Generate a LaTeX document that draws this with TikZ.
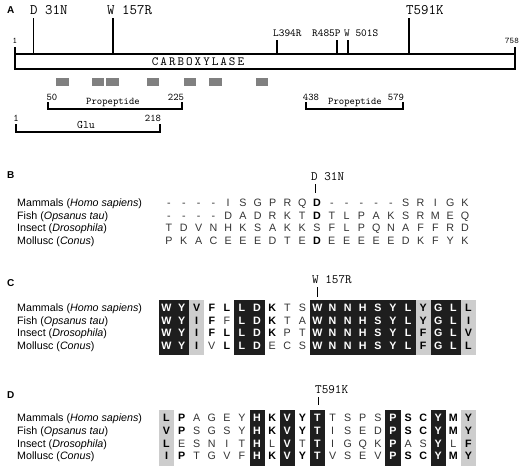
\documentclass[tikz,border=0pt]{standalone}
\usepackage{fontspec}
\setmainfont{Liberation Sans}
\newfontfamily\carbfont{lmmono10-regular.otf}[LetterSpace=16]
\definecolor{blk}{HTML}{1E1E1E}
\definecolor{lgr}{HTML}{CDCDCD}
\definecolor{dgr}{HTML}{808080}
\definecolor{txt}{HTML}{333333}
\newcommand\seqrow[5]{\foreach \l/\s [count=\i from 0] in {#5} {\node[\s] (#1\i) at ({#2+#3*\i},#4) {\l};}}
\newcommand\colbox[5]{\fill[#1] ({166.5+15.1*#2-7.55},#4) rectangle ({166.5+15.1*#3+7.55},#5);}
\begin{document}
\begin{tikzpicture}[x=1pt,y=-1pt,
  panel/.style={font=\bfseries\fontsize{10}{10}\selectfont, inner sep=0, anchor=west, text height=7.2pt, text depth=0pt},
  species/.style={font=\fontsize{10.7}{12}\selectfont, inner sep=0, anchor=west, text height=7.6pt, text depth=0pt},
  reg/.style={font=\fontsize{10.7}{12}\selectfont, text=txt, inner sep=0, text height=7.6pt, text depth=0pt},
  bld/.style={font=\bfseries\fontsize{10.7}{12}\selectfont, text=black, inner sep=0, text height=7.6pt, text depth=0pt},
  wht/.style={bld, text=white},
  mutbig/.style={font=\ttfamily\fontsize{14.5}{15}\selectfont, inner sep=0, anchor=west, text height=8.5pt, text depth=0pt},
  mutmid/.style={font=\ttfamily\fontsize{12.8}{13}\selectfont, inner sep=0, anchor=west, text height=7.5pt, text depth=0pt},
  mutsmall/.style={font=\ttfamily\fontsize{10.8}{11}\selectfont, inner sep=0, anchor=west, text height=6.5pt, text depth=0pt},
  numtiny/.style={font=\ttfamily\fontsize{8.6}{9}\selectfont, inner sep=0, text height=5.2pt, text depth=0pt},
  numsmall/.style={font=\ttfamily\fontsize{10.2}{10}\selectfont, inner sep=0, text height=6pt, text depth=0pt},
  mutline/.style={line width=1.6pt},
  brk/.style={line width=1.4pt},
  tickline/.style={line width=0.8pt},
  dom/.style={fill=dgr, inner sep=0, minimum width=12.5pt, minimum height=8pt}
]
\useasboundingbox (0,0) rectangle (520,469);

% ---------------- Panel A ----------------
\node[panel] (lA) at (7,10) {A};
\node[draw, line width=1.6pt, inner sep=0, minimum width=500pt, minimum height=15pt] (carb) at (265,61.5) {};
\node[font=\carbfont\fontsize{12.5}{13}\selectfont, inner sep=0, text height=7pt, text depth=0pt] (carbtxt) at (198,62) {CARBOXYLASE};
% end ticks
\coordinate (e1a) at (15,47); \coordinate (e1b) at (15,69);
\coordinate (e2a) at (515,47); \coordinate (e2b) at (515,69);
\draw[mutline] (e1a) -- (e1b);
\draw[mutline] (e2a) -- (e2b);
\node[numtiny] (n1) at (15,41) {1};
\node[numtiny] (n758) at (512,41) {758};
% mutations
\coordinate (m1b) at (33.5,54); \coordinate (m1t) at (33.5,18);
\coordinate (m2b) at (113,54); \coordinate (m2t) at (113,18);
\coordinate (m3b) at (277,54); \coordinate (m3t) at (277,40);
\coordinate (m4b) at (337,54); \coordinate (m4t) at (337,40);
\coordinate (m5b) at (348,54); \coordinate (m5t) at (348,40);
\coordinate (m6b) at (409,54); \coordinate (m6t) at (409,18);
\foreach \k in {1,...,6} {\draw[mutline] (m\k b) -- (m\k t);}
\node[mutbig] (t1) at (30,10) {D 31N};
\node[mutbig] (t2) at (107,10) {W 157R};
\node[mutbig] (t6) at (406,10) {T591K};
\node[mutsmall] (t3) at (273,33) {L394R};
\node[mutsmall] (t4) at (312,33) {R485P};
\node[mutsmall] (t5) at (344,33) {W 501S};
% domains
\node[dom] (d1) at (62.5,82) {};
\node[dom] (d2) at (98,82) {};
\node[dom] (d3) at (112.5,82) {};
\node[dom] (d4) at (153,82) {};
\node[dom] (d5) at (190,82) {};
\node[dom] (d6) at (215.5,82) {};
\node[dom] (d7) at (262,82) {};
% propeptide 1
\coordinate (p1a) at (48,102); \coordinate (p1b) at (48,109);
\coordinate (p1c) at (182,109); \coordinate (p1d) at (182,102);
\draw[brk] (p1a) -- (p1b) -- (p1c) -- (p1d);
\node[numsmall] (p1n1) at (52,97) {50};
\node[numsmall] (p1n2) at (176,97) {225};
\node[numsmall] (p1t) at (113,101) {Propeptide};
% Glu
\coordinate (g1a) at (16,124); \coordinate (g1b) at (16,132);
\coordinate (g1c) at (160,132); \coordinate (g1d) at (160,124);
\draw[brk] (g1a) -- (g1b) -- (g1c) -- (g1d);
\node[numsmall] (g1n1) at (16,118) {1};
\node[numsmall] (g1n2) at (153,118) {218};
\node[font=\ttfamily\fontsize{11.5}{11}\selectfont, inner sep=0, text height=6.5pt, text depth=0pt] (g1t) at (86,125) {Glu};
% propeptide 2
\coordinate (p2a) at (306,102); \coordinate (p2b) at (306,109);
\coordinate (p2c) at (403,109); \coordinate (p2d) at (403,102);
\draw[brk] (p2a) -- (p2b) -- (p2c) -- (p2d);
\node[numsmall] (p2n1) at (311,97) {438};
\node[numsmall] (p2n2) at (396,97) {579};
\node[numsmall] (p2t) at (355,101) {Propeptide};

% ---------------- Panel B ----------------
\node[panel] (lB) at (7,175) {B};
\node[mutmid] (bm) at (311,177) {D 31N};
\coordinate (bt1) at (315,184); \coordinate (bt2) at (315,193);
\draw[tickline] (bt1) -- (bt2);
\node[species] (bs1) at (17,203) {Mammals (\textit{Homo sapiens})};
\node[species] (bs2) at (17,215.4) {Fish (\textit{Opsanus tau})};
\node[species] (bs3) at (17,227.8) {Insect (\textit{Drosophila})};
\node[species] (bs4) at (17,240.2) {Mollusc (\textit{Conus})};
\seqrow{ba}{169}{14.8}{203}{-/reg,-/reg,-/reg,-/reg,I/reg,S/reg,G/reg,P/reg,R/reg,Q/reg,D/bld,-/reg,-/reg,-/reg,-/reg,-/reg,S/reg,R/reg,I/reg,G/reg,K/reg}
\seqrow{bb}{169}{14.8}{215.4}{-/reg,-/reg,-/reg,-/reg,D/reg,A/reg,D/reg,R/reg,K/reg,T/reg,D/bld,T/reg,L/reg,P/reg,A/reg,K/reg,S/reg,R/reg,M/reg,E/reg,Q/reg}
\seqrow{bc}{169}{14.8}{227.8}{T/reg,D/reg,V/reg,N/reg,H/reg,K/reg,S/reg,A/reg,K/reg,K/reg,S/reg,F/reg,L/reg,P/reg,Q/reg,N/reg,A/reg,F/reg,F/reg,R/reg,D/reg}
\seqrow{bd}{169}{14.8}{240.2}{P/reg,K/reg,A/reg,C/reg,E/reg,E/reg,E/reg,D/reg,T/reg,E/reg,D/bld,E/reg,E/reg,E/reg,E/reg,E/reg,D/reg,K/reg,F/reg,Y/reg,K/reg}

% ---------------- Panel C ----------------
\node[panel] (lC) at (7,283) {C};
\node[mutmid] (cm) at (312,280) {W 157R};
\coordinate (ct1) at (317,287); \coordinate (ct2) at (317,297);
\draw[tickline] (ct1) -- (ct2);
\node[species] (cs1) at (17,308) {Mammals (\textit{Homo sapiens})};
\node[species] (cs2) at (17,320.4) {Fish (\textit{Opsanus tau})};
\node[species] (cs3) at (17,332.8) {Insect (\textit{Drosophila})};
\node[species] (cs4) at (17,345.2) {Mollusc (\textit{Conus})};
\colbox{blk}{0}{1}{299.5}{355}
\colbox{lgr}{2}{2}{299.5}{355}
\colbox{blk}{5}{6}{299.5}{355}
\colbox{blk}{10}{16}{299.5}{355}
\colbox{lgr}{17}{17}{299.5}{355}
\colbox{blk}{18}{19}{299.5}{355}
\colbox{lgr}{20}{20}{299.5}{355}
\seqrow{ca}{166.5}{15.1}{308}{W/wht,Y/wht,V/bld,F/bld,L/bld,L/wht,D/wht,K/bld,T/reg,S/reg,W/wht,N/wht,N/wht,H/wht,S/wht,Y/wht,L/wht,Y/bld,G/wht,L/wht,L/bld}
\seqrow{cb}{166.5}{15.1}{320.4}{W/wht,Y/wht,I/bld,F/bld,F/reg,L/wht,D/wht,K/bld,T/reg,A/reg,W/wht,N/wht,N/wht,H/wht,S/wht,Y/wht,L/wht,Y/bld,G/wht,L/wht,I/bld}
\seqrow{cc}{166.5}{15.1}{332.8}{W/wht,Y/wht,I/bld,F/bld,L/bld,L/wht,D/wht,K/bld,P/reg,T/reg,W/wht,N/wht,N/wht,H/wht,S/wht,Y/wht,L/wht,F/bld,G/wht,L/wht,V/bld}
\seqrow{cd}{166.5}{15.1}{345.2}{W/wht,Y/wht,I/bld,V/reg,L/bld,L/wht,D/wht,E/reg,C/reg,S/reg,W/wht,N/wht,N/wht,H/wht,S/wht,Y/wht,L/wht,F/bld,G/wht,L/wht,L/bld}

% ---------------- Panel D ----------------
\node[panel] (lD) at (7,395) {D};
\node[mutmid] (dm) at (315,390) {T591K};
\coordinate (dt1) at (318,397); \coordinate (dt2) at (318,405);
\draw[tickline] (dt1) -- (dt2);
\node[species] (ds1) at (17,418) {Mammals (\textit{Homo sapiens})};
\node[species] (ds2) at (17,430.6) {Fish (\textit{Opsanus tau})};
\node[species] (ds3) at (17,443.2) {Insect (\textit{Drosophila})};
\node[species] (ds4) at (17,455.8) {Mollusc (\textit{Conus})};
\colbox{lgr}{0}{0}{409.5}{466}
\colbox{blk}{6}{6}{409.5}{466}
\colbox{blk}{8}{8}{409.5}{466}
\colbox{blk}{10}{10}{409.5}{466}
\colbox{blk}{15}{15}{409.5}{466}
\colbox{blk}{18}{18}{409.5}{466}
\colbox{lgr}{20}{20}{409.5}{466}
\seqrow{da}{166.5}{15.1}{418}{L/bld,P/bld,A/reg,G/reg,E/reg,Y/reg,H/wht,K/bld,V/wht,Y/bld,T/wht,T/reg,S/reg,P/reg,S/reg,P/wht,S/bld,C/bld,Y/wht,M/bld,Y/bld}
\seqrow{db}{166.5}{15.1}{430.6}{V/bld,P/bld,S/reg,G/reg,S/reg,Y/reg,H/wht,K/bld,V/wht,Y/bld,T/wht,I/reg,S/reg,E/reg,D/reg,P/wht,S/bld,C/bld,Y/wht,M/bld,Y/bld}
\seqrow{dc}{166.5}{15.1}{443.2}{L/bld,E/reg,S/reg,N/reg,I/reg,T/reg,H/wht,L/reg,V/wht,T/reg,T/wht,I/reg,G/reg,Q/reg,K/reg,P/wht,A/reg,S/reg,Y/wht,L/reg,F/bld}
\seqrow{dd}{166.5}{15.1}{455.8}{I/bld,P/bld,T/reg,G/reg,V/reg,F/reg,H/wht,K/bld,V/wht,Y/bld,T/wht,V/reg,S/reg,E/reg,V/reg,P/wht,S/bld,C/bld,Y/wht,M/bld,Y/bld}
\end{tikzpicture}
\end{document}
